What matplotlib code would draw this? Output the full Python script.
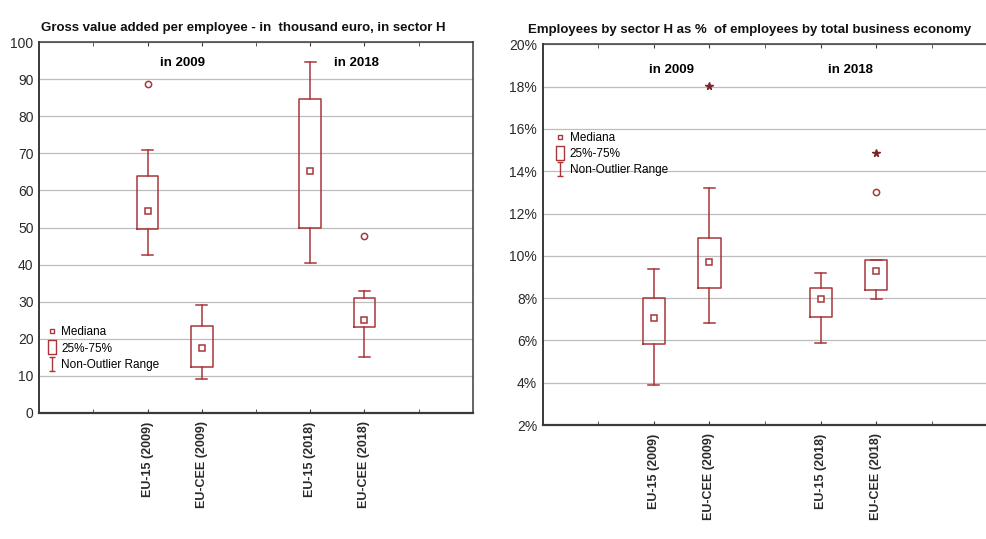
import matplotlib
matplotlib.use("Agg")
import matplotlib.pyplot as plt
from matplotlib.lines import Line2D
from matplotlib.path import Path

plt.rcParams['font.family'] = ['Liberation Sans', 'DejaVu Sans']

# x positions / labels (shared)
positions = [2, 3, 5, 6]
labels = ["EU-15 (2009)", "EU-CEE (2009)", "EU-15 (2018)", "EU-CEE (2018)"]

# left: gross value added per employee (thousand euro)
gva_med = [54.5, 17.5, 65.3, 25.0]
gva_q1 = [49.5, 12.5, 50.0, 23.1]
gva_q3 = [63.8, 23.4, 84.7, 31.0]
gva_lo = [42.6, 9.1, 40.5, 15.0]
gva_hi = [70.9, 29.0, 94.7, 32.8]
gva_outliers = [[88.6], [], [], [47.7]]
gva_extremes = [[], [], [], []]

# right: employees in sector H as % of total business economy
emp_med = [7.07, 9.69, 7.94, 9.30]
emp_q1 = [5.82, 8.49, 7.12, 8.38]
emp_q3 = [8.00, 10.83, 8.49, 9.80]
emp_lo = [3.89, 6.81, 5.86, 7.94]
emp_hi = [9.38, 13.22, 9.20, 9.80]
emp_outliers = [[], [], [], [13.0]]
emp_extremes = [[], [18.04], [], [14.88]]

gva_ticks = [0, 10, 20, 30, 40, 50, 60, 70, 80, 90, 100]
emp_ticks = [2, 4, 6, 8, 10, 12, 14, 16, 18, 20]
emp_ticklabels = ["2%", "4%", "6%", "8%", "10%", "12%", "14%", "16%", "18%", "20%"]

RED = "#a8363a"
GRID = "#bdbdbd"
SPINE = "#3a3a3a"
TXT = "#2a2a2a"

rect_marker = Path([(-0.5, -1), (0.5, -1), (0.5, 1), (-0.5, 1), (-0.5, -1)],
                   [Path.MOVETO, Path.LINETO, Path.LINETO, Path.LINETO, Path.CLOSEPOLY])
ibeam_marker = Path([(-0.5, 1), (0.5, 1), (0, 1), (0, -1), (-0.5, -1), (0.5, -1)],
                    [Path.MOVETO, Path.LINETO, Path.MOVETO, Path.LINETO, Path.MOVETO, Path.LINETO])


def draw_panel(ax, med, q1, q3, lo, hi, outl, extr, title, tsize, tx):
    stats = []
    for i in range(len(med)):
        stats.append({"med": med[i], "q1": q1[i], "q3": q3[i],
                      "whislo": lo[i], "whishi": hi[i], "fliers": []})
    ax.bxp(stats, positions=positions, widths=0.4, capwidths=0.2,
           showfliers=False,
           boxprops=dict(color=RED, linewidth=1.1),
           whiskerprops=dict(color=RED, linewidth=1.1),
           capprops=dict(color=RED, linewidth=1.1),
           medianprops=dict(linestyle="none"))
    ax.plot(positions, med, linestyle="none", marker="s", markersize=4,
            markerfacecolor="white", markeredgecolor=RED, markeredgewidth=1.1, zorder=4)
    for p, vals in zip(positions, outl):
        if vals:
            ax.plot([p] * len(vals), vals, linestyle="none", marker="o", markersize=4.5,
                    markerfacecolor="white", markeredgecolor=RED, markeredgewidth=1.1)
    for p, vals in zip(positions, extr):
        if vals:
            ax.plot([p] * len(vals), vals, linestyle="none", marker="*", markersize=5.5,
                    color="#7a2428")
    ax.set_xlim(0, 8)
    ax.set_xticks(positions)
    ax.set_xticklabels(labels, rotation=90, fontweight="bold", fontsize=9, color=TXT)
    ax.set_xticks([1, 4, 7], minor=True)
    ax.tick_params(axis="x", which="both", direction="in", length=3, top=True,
                   color=SPINE, pad=6)
    ax.tick_params(axis="y", length=0, labelsize=10, labelcolor=TXT, pad=4)
    ax.yaxis.grid(True, color=GRID, linewidth=0.9)
    ax.set_axisbelow(True)
    for s in ax.spines.values():
        s.set_color(SPINE)
        s.set_linewidth(1.1)
    ax.spines["bottom"].set_linewidth(1.6)
    ax.spines["left"].set_linewidth(1.4)
    ax.set_title(title, fontsize=tsize, fontweight="bold", color="#111111", pad=8, x=tx)


fig = plt.figure(figsize=(9.86, 5.39), dpi=100)
ax1 = fig.add_axes([0.0396, 0.2338, 0.440, 0.688])
ax2 = fig.add_axes([0.5504, 0.2115, 0.451, 0.7063])

draw_panel(ax1, gva_med, gva_q1, gva_q3, gva_lo, gva_hi, gva_outliers, gva_extremes,
           "Gross value added per employee - in  thousand euro, in sector H", 9.5, 0.47)
ax1.set_ylim(0, 100)
ax1.set_yticks(gva_ticks)
ax1.text(2.64, 94.3, "in 2009", ha="center", va="center", fontsize=9.5, fontweight="bold")
ax1.text(5.86, 94.3, "in 2018", ha="center", va="center", fontsize=9.5, fontweight="bold")

draw_panel(ax2, emp_med, emp_q1, emp_q3, emp_lo, emp_hi, emp_outliers, emp_extremes,
           "Employees by sector H as %  of employees by total business economy", 9.5, 0.465)
ax2.set_ylim(2, 20)
ax2.set_yticks(emp_ticks)
ax2.set_yticklabels(emp_ticklabels)
ax2.text(2.32, 18.78, "in 2009", ha="center", va="center", fontsize=9.5, fontweight="bold")
ax2.text(5.53, 18.8, "in 2018", ha="center", va="center", fontsize=9.5, fontweight="bold")

handles = [
    Line2D([], [], linestyle="none", marker="s", markersize=3.5, markerfacecolor="white",
           markeredgecolor=RED, markeredgewidth=1.0),
    Line2D([], [], linestyle="none", marker=rect_marker, markersize=10.5, markerfacecolor="none",
           markeredgecolor=RED, markeredgewidth=1.0),
    Line2D([], [], linestyle="none", marker=ibeam_marker, markersize=9.5, markerfacecolor="none",
           markeredgecolor=RED, markeredgewidth=1.0),
]
leg_labels = ["Mediana", "25%-75%", "Non-Outlier Range"]
ax1.legend(handles, leg_labels, loc="lower left", bbox_to_anchor=(0.0, 0.095), frameon=False,
           fontsize=8.5, handlelength=1.0, handletextpad=0.3, labelspacing=0.35,
           borderaxespad=0.2)
ax2.legend(handles, leg_labels, loc="lower left", bbox_to_anchor=(0.01, 0.635), frameon=False,
           fontsize=8.5, handlelength=1.0, handletextpad=0.3, labelspacing=0.35,
           borderaxespad=0.2)

fig.savefig("out.png", dpi=100)
